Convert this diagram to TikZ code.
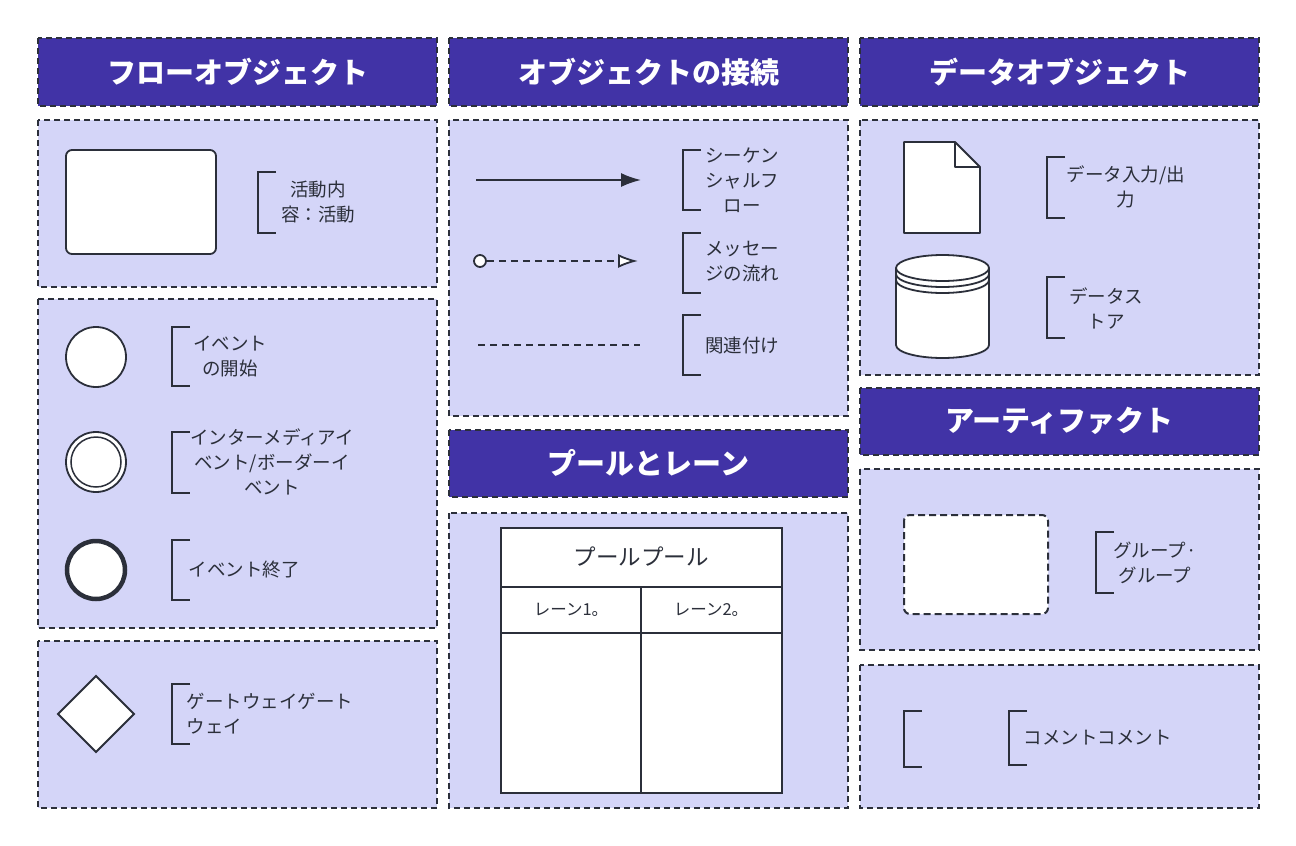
\documentclass[tikz,border=0pt]{standalone}
\usepackage{fontspec}
\setmainfont{Noto Sans CJK JP}
\usetikzlibrary{arrows.meta}
\definecolor{hdr}{HTML}{4133A6}
\definecolor{pnl}{HTML}{D4D5F8}
\definecolor{ink}{HTML}{2B2F3A}
\tikzset{
 panel/.style={fill=pnl,draw=ink,line width=1.3pt,dash pattern=on 6pt off 4pt},
 header/.style={fill=hdr,draw=ink,line width=1.3pt,dash pattern=on 6pt off 4pt},
 htext/.style={text=white,font=\fontsize{29}{32}\selectfont\bfseries},
 lbl/.style={text=ink,font=\fontsize{18.5}{25}\selectfont,align=center},
 brk/.style={draw=ink,line width=1.8pt},
 shp/.style={draw=ink,fill=white,line width=1.8pt},
}
\begin{document}
\begin{tikzpicture}[x=1pt,y=-1pt]
\useasboundingbox (0,0) rectangle (1296,846);
\fill[white] (0,0) rectangle (1296,846);
% column 1
\draw[header] (38,38) rectangle (437,106);
\node[htext] (h1) at (237.5,72) {フローオブジェクト};
\draw[panel] (38,120) rectangle (437,287);
\draw[panel] (38,299) rectangle (437,628);
\draw[panel] (38,641) rectangle (437,808);
% column 2
\draw[header] (449,38) rectangle (848,106);
\node[htext] (h2) at (648.5,72) {オブジェクトの接続};
\draw[panel] (449,120) rectangle (848,416);
\draw[header] (449,430) rectangle (848,497);
\node[htext] (h3) at (648.5,463) {プールとレーン};
\draw[panel] (449,513) rectangle (848,808);
% column 3
\draw[header] (860,38) rectangle (1259,106);
\node[htext] (h4) at (1059.5,72) {データオブジェクト};
\draw[panel] (860,120) rectangle (1259,375);
\draw[header] (860,388) rectangle (1259,455);
\node[htext] (h5) at (1059.5,421) {アーティファクト};
\draw[panel] (860,469) rectangle (1259,650);
\draw[panel] (860,665) rectangle (1259,808);

% brackets
\foreach \x/\a/\b in {258/172/233,172/327/386,172/432/493,172/540/600,172/684/744,683/150/210,683/233/293,683/315/375,1047/157/218,1047/277/338,1096/532/593,904/711/767,1009/711/765}
  \draw[brk] (\x+18,\a) -- (\x,\a) -- (\x,\b) -- (\x+18,\b);

% labels
\node[lbl] (l1) at (318,202) {活動内\\容：活動};
\node[lbl] (l2) at (230,357) {イベント\\の開始};
\node[lbl] (l3) at (272,462) {インターメディアイ\\ベント/ボーダーイ\\ベント};
\node[lbl] (l4) at (244,570) {イベント終了};
\node[lbl,align=left,anchor=west] (l5) at (183,714) {ゲートウェイゲート\\ウェイ};
\node[lbl] (l6) at (742,180) {シーケン\\シャルフ\\ロー};
\node[lbl] (l7) at (742,262) {メッセー\\ジの流れ};
\node[lbl] (l8) at (742,345) {関連付け};
\node[lbl] (l9) at (1126,187) {データ入力/出\\力};
\node[lbl] (l10) at (1106,308) {データス\\トア};
\node[lbl] (l11) at (1155,563) {グループ·\\グループ};
\node[lbl,anchor=west] (l12) at (1020,738) {コメントコメント};

% flow objects
\draw[shp,rounded corners=6pt] (66,150) rectangle (216,254);
\draw[shp] (96,357) circle (30);
\draw[shp] (96,462) circle (30);
\draw[ink,line width=1.5pt] (96,462) circle (25);
\draw[shp,line width=4.5pt] (96,570) circle (29);
\draw[shp] (96,676) -- (134,714) -- (96,752) -- (58,714) -- cycle;

% connections
\coordinate (a1) at (476,180); \coordinate (a2) at (641,180);
\draw[ink,line width=1.8pt,-{Latex[length=20pt,width=14pt]}] (a1) -- (a2);
\node[circle,draw=ink,fill=white,line width=1.8pt,minimum size=12pt,inner sep=0pt] (m1) at (480,261) {};
\coordinate (m2) at (638,261);
\draw[ink,line width=1.8pt,dash pattern=on 7pt off 5pt,-{Latex[open,fill=white,length=20pt,width=14pt]}] (m1) -- (m2);
\coordinate (s1) at (478,345); \coordinate (s2) at (640,345);
\draw[ink,line width=1.8pt,dash pattern=on 7pt off 5pt] (s1) -- (s2);

% pool
\draw[shp] (501,528) rectangle (782,793);
\draw[ink,line width=1.8pt] (501,587) -- (782,587);
\draw[ink,line width=1.8pt] (501,633) -- (782,633);
\draw[ink,line width=1.8pt] (641,587) -- (641,793);
\node[lbl,font=\fontsize{22.5}{26}\selectfont] (p0) at (641,557) {プールプール};
\node[lbl,font=\fontsize{16.5}{20}\selectfont] (p1) at (571,610) {レーン1。};
\node[lbl,font=\fontsize{16.5}{20}\selectfont] (p2) at (711,610) {レーン2。};

% data objects
\draw[shp,line join=round] (904,142) -- (955,142) -- (980,167) -- (980,233) -- (904,233) -- cycle;
\draw[ink,line width=1.8pt,line join=round] (955,142) -- (955,167) -- (980,167);
\draw[shp] (896,268) -- (896,345) arc[start angle=180,end angle=0,x radius=46.5,y radius=13] -- (989,268) arc[start angle=0,end angle=-180,x radius=46.5,y radius=13] -- cycle;
\draw[ink,line width=1.8pt] (896,268) arc[start angle=180,end angle=0,x radius=46.5,y radius=13];
\draw[ink,line width=1.8pt] (896,274) arc[start angle=180,end angle=0,x radius=46.5,y radius=13];
\draw[ink,line width=1.8pt] (896,280) arc[start angle=180,end angle=0,x radius=46.5,y radius=13];

% group
\draw[draw=ink,fill=white,line width=2pt,dash pattern=on 7pt off 4pt,rounded corners=6pt] (904,515) rectangle (1048,614);
\end{tikzpicture}
\end{document}
